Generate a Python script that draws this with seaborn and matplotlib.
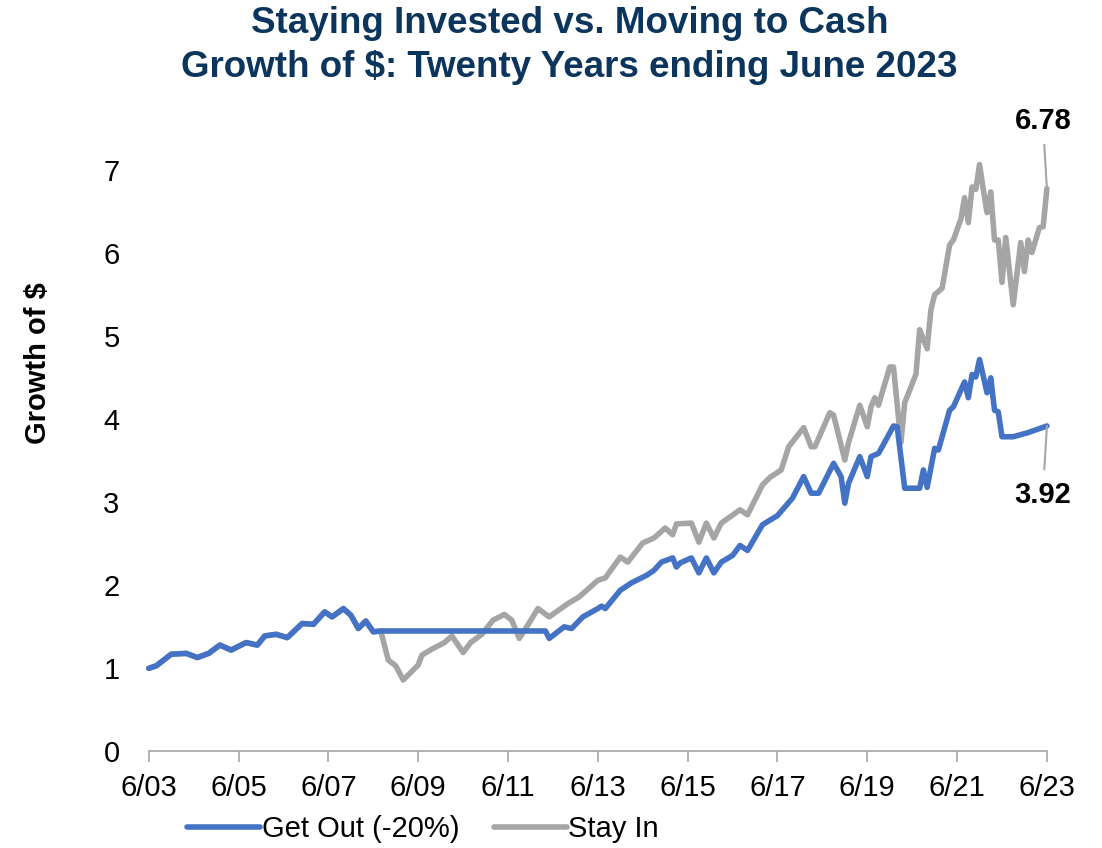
import matplotlib
matplotlib.use('Agg')
import matplotlib.pyplot as plt
import numpy as np
import pandas as pd
import seaborn as sns

# months since 6/03
shared_months = [0, 2, 6, 10, 13, 16, 19, 22, 26, 29, 31, 34, 37, 41, 44, 47, 49, 52, 54, 56, 58, 60, 62]
shared_values = [1.00, 1.03, 1.17, 1.18, 1.13, 1.18, 1.28, 1.22, 1.31, 1.28, 1.39, 1.41, 1.37, 1.54, 1.53,
                 1.68, 1.62, 1.72, 1.64, 1.48, 1.57, 1.44, 1.45]

stay_months = [64, 66, 68, 72, 73, 76, 79, 81, 84, 86, 89, 92, 95, 97, 99, 101, 104, 107, 112, 115,
               120, 122, 126, 128, 132, 135, 138, 140, 141, 145, 147, 149, 151, 153, 158, 160, 164, 166,
               169, 171, 175, 177, 178, 182, 183, 186, 187, 190, 192, 193, 194, 195, 198, 199, 201, 202,
               205, 206, 208, 209, 210, 212, 214, 215, 217, 218, 219, 220, 221, 222, 223, 224, 225, 226,
               227, 228, 229, 231, 233, 234, 235, 236, 238, 239, 240]
stay_values = [1.10, 1.03, 0.86, 1.04, 1.16, 1.24, 1.31, 1.39, 1.19, 1.31, 1.41, 1.58, 1.65, 1.58, 1.36,
               1.50, 1.72, 1.62, 1.78, 1.86, 2.06, 2.09, 2.34, 2.28, 2.51, 2.57, 2.69, 2.61, 2.74, 2.75,
               2.52, 2.75, 2.57, 2.75, 2.91, 2.85, 3.21, 3.30, 3.39, 3.67, 3.90, 3.67, 3.67, 4.08, 4.05,
               3.51, 3.72, 4.17, 3.91, 4.15, 4.26, 4.17, 4.63, 4.63, 3.72, 4.20, 4.54, 5.08, 4.85, 5.32,
               5.50, 5.58, 6.10, 6.16, 6.41, 6.67, 6.37, 6.80, 6.77, 7.07, 6.77, 6.49, 6.74, 6.16, 6.16,
               5.65, 6.19, 5.38, 6.13, 5.78, 6.16, 6.01, 6.31, 6.32, 6.78]

out_months = [106, 107, 111, 113, 116, 120, 121, 122, 126, 129, 133, 135, 137, 140, 141, 142, 145, 147,
              149, 151, 153, 156, 158, 160, 164, 168, 172, 175, 177, 179, 183, 185, 186, 187, 190, 192,
              193, 195, 196, 199, 200, 202, 206, 207, 208, 210, 211, 214, 215, 218, 219, 220, 221, 222,
              224, 225, 226, 227, 228, 231, 235, 240]
out_values = [1.45, 1.36, 1.50, 1.48, 1.62, 1.72, 1.75, 1.72, 1.94, 2.03, 2.12, 2.18, 2.28, 2.33, 2.22,
              2.27, 2.33, 2.15, 2.33, 2.15, 2.28, 2.36, 2.48, 2.42, 2.73, 2.84, 3.05, 3.31, 3.11, 3.11,
              3.47, 3.31, 2.99, 3.23, 3.55, 3.31, 3.55, 3.59, 3.67, 3.92, 3.91, 3.17, 3.17, 3.39, 3.18,
              3.65, 3.63, 4.11, 4.15, 4.45, 4.26, 4.54, 4.51, 4.72, 4.32, 4.50, 4.11, 4.09, 3.79, 3.79,
              3.84, 3.92]

tick_months = list(range(0, 241, 24))
tick_labels = ['6/03', '6/05', '6/07', '6/09', '6/11', '6/13', '6/15', '6/17', '6/19', '6/21', '6/23']

BLUE = '#4472C4'
GRAY = '#A5A5A5'
NAVY = '#0B355C'

sns.set_style('white', {'text.color': 'black', 'xtick.color': 'black', 'ytick.color': 'black',
                        'axes.labelcolor': 'black'})
plt.rcParams['font.family'] = ['Liberation Sans', 'DejaVu Sans']

stay = pd.DataFrame({'month': shared_months + stay_months,
                     'value': shared_values + stay_values})
out = pd.DataFrame({'month': shared_months + out_months,
                    'value': shared_values + out_values})

fig = plt.figure(figsize=(11.02, 8.48), dpi=100)
ax = fig.add_axes([0.135, 0.114, 0.815, 0.739])

sns.lineplot(data=stay, x='month', y='value', color=GRAY, lw=4, ax=ax,
             label='Stay In', clip_on=False, zorder=2)
sns.lineplot(data=out, x='month', y='value', color=BLUE, lw=4, ax=ax,
             label='Get Out (-20%)', clip_on=False, zorder=3)

ax.set_xlim(0, 240)
ax.set_ylim(0, 7.55)
ax.set_yticks(range(0, 8))
ax.set_xticks(tick_months)
ax.set_xticklabels(tick_labels)
ax.tick_params(axis='y', length=0, labelsize=21, pad=21, labelcolor='black')
ax.tick_params(axis='x', length=8, width=1.2, color='#A6A6A6', direction='out',
               labelsize=21, pad=8, labelcolor='black')
ax.xaxis.set_ticks_position('bottom')
for s in ['top', 'right', 'left']:
    ax.spines[s].set_visible(False)
ax.spines['bottom'].set_color('#A6A6A6')
ax.spines['bottom'].set_linewidth(1.2)
ax.set_xlabel('')
ax.set_ylabel('Growth of $', fontsize=21, fontweight='bold', color='black')
ax.yaxis.set_label_coords(-0.108, 0.62)

fig.suptitle('Staying Invested vs. Moving to Cash\nGrowth of $: Twenty Years ending June 2023',
             fontsize=26.5, fontweight='bold', color=NAVY, x=0.517, y=0.993, linespacing=1.32)

# end labels
ax.annotate('6.78', xy=(stay_months[-1], stay_values[-1]), xytext=(238.9, 7.6),
            fontsize=21, fontweight='bold', ha='center', va='center', color='black',
            arrowprops=dict(arrowstyle='-', color=GRAY, lw=1.5, shrinkA=5, shrinkB=0),
            annotation_clip=False)
ax.annotate('3.92', xy=(out_months[-1], out_values[-1]), xytext=(238.9, 3.09),
            fontsize=21, fontweight='bold', ha='center', va='center', color='black',
            arrowprops=dict(arrowstyle='-', color=GRAY, lw=1.5, shrinkA=6, shrinkB=0),
            annotation_clip=False)

handles, labels = ax.get_legend_handles_labels()
ax.get_legend().remove()
order = [labels.index('Get Out (-20%)'), labels.index('Stay In')]
fig.legend([handles[i] for i in order], [labels[i] for i in order],
           loc='center', bbox_to_anchor=(0.384, 0.022), ncol=2, frameon=False,
           fontsize=21, handlelength=2.5, handletextpad=0.05, columnspacing=1.2)

fig.savefig('out.png', dpi=100)
